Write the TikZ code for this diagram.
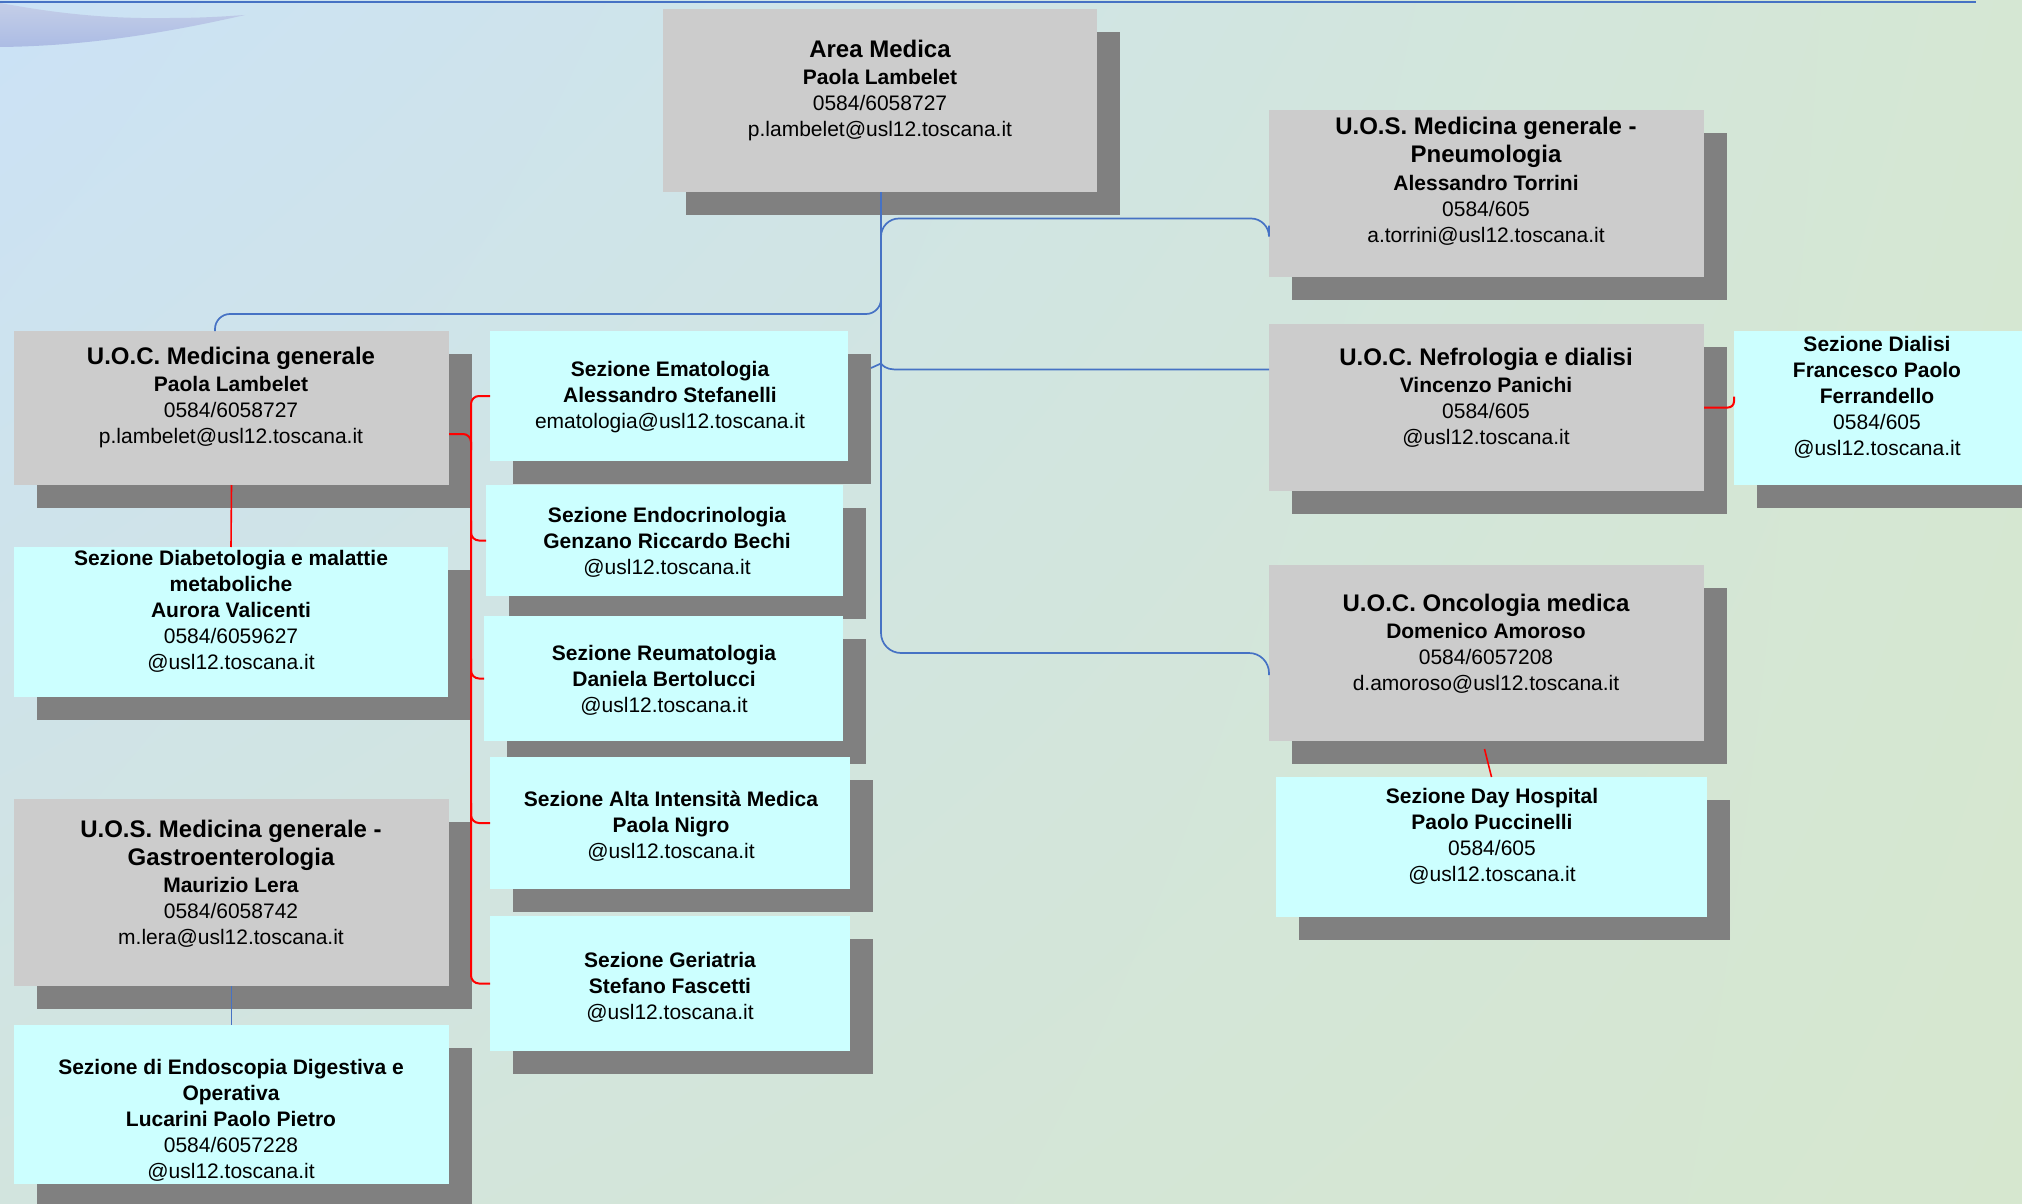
\documentclass[tikz,border=0pt]{standalone}
\usepackage{fontspec}
\setmainfont{Liberation Sans}
\usetikzlibrary{calc,shadings}
\definecolor{boxgray}{RGB}{204,204,204}
\definecolor{boxcyan}{RGB}{204,255,255}
\definecolor{shadowgray}{RGB}{128,128,128}
\definecolor{linkblue}{RGB}{70,114,196}
\definecolor{linkred}{RGB}{255,0,0}
\definecolor{bgUL}{RGB}{203,226,246}
\definecolor{bgUR}{RGB}{213,231,211}
\definecolor{bgLL}{RGB}{210,228,222}
\definecolor{bgLR}{RGB}{214,231,207}
\definecolor{swA}{RGB}{196,206,232}
\definecolor{swB}{RGB}{172,188,228}
\newcommand\Tl{\fontsize{24}{26}\selectfont\bfseries}
\newcommand\Bl{\bfseries}
\tikzset{
  orgbox/.style={inner sep=0pt, outer sep=0pt, anchor=north west, draw=none},
  orgtext/.style={align=center, font=\fontsize{21}{26}\selectfont, inner sep=0pt, text=black, yshift=-3.5pt},
  bluelink/.style={draw=linkblue, line width=1.7pt, rounded corners=16pt},
  redlink/.style={draw=linkred, line width=2pt, rounded corners=8pt},
}
\newcommand\orgunit[6]{%
  \fill[shadowgray] (#2+23,#3+23) rectangle (#4+23,#5+23);
  \node[orgbox, fill=#6, minimum width={(#4-#2)*1pt}, minimum height={(#5-#3)*1pt}] (#1) at (#2,#3) {};
}
\begin{document}
\begin{tikzpicture}[x=1pt,y=-1pt]
\useasboundingbox (0,0) rectangle (2022,1204);
% background
\shade[upper left=bgUL, upper right=bgUR, lower left=bgLL, lower right=bgLR] (0,0) rectangle (2022,1204);
% swoosh
\shade[top color=swA, bottom color=swB] (0,3) .. controls (60,14) and (110,19) .. (170,18)
  .. controls (205,18) and (230,16) .. (245,15)
  .. controls (170,32) and (90,46) .. (0,47) -- cycle;
\draw[linkblue, line width=2.5pt] (0,2) -- (1976,2);

% boxes
\orgunit{am}{663}{9}{1097}{192}{boxgray}
\orgunit{pn}{1269}{110}{1704}{277}{boxgray}
\orgunit{nef}{1269}{324}{1704}{491}{boxgray}
\orgunit{dia}{1734}{331}{2169}{485}{boxcyan}
\orgunit{onc}{1269}{565}{1704}{741}{boxgray}
\orgunit{dh}{1276}{777}{1707}{917}{boxcyan}
\orgunit{mg}{14}{331}{449}{485}{boxgray}
\orgunit{diab}{14}{547}{448}{697}{boxcyan}
\orgunit{gas}{14}{799}{449}{986}{boxgray}
\orgunit{endo}{14}{1025}{449}{1184}{boxcyan}
\orgunit{ema}{490}{331}{848}{461}{boxcyan}
\orgunit{endc}{486}{485}{843}{596}{boxcyan}
\orgunit{reu}{484}{616}{843}{741}{boxcyan}
\orgunit{alta}{490}{757}{850}{889}{boxcyan}
\orgunit{ger}{490}{916}{850}{1051}{boxcyan}

% texts
\node[orgtext] (am-t) at (880,87) {{\Tl Area Medica}\\[1pt] {\Bl Paola Lambelet}\\ 0584/6058727\\ p.lambelet@usl12.toscana.it};
\node[orgtext] (pn-t) at (1486,178) {{\Tl U.O.S. Medicina generale -}\\[2pt] {\Tl Pneumologia}\\[2pt] {\Bl Alessandro Torrini}\\ 0584/605\\ a.torrini@usl12.toscana.it};
\node[orgtext] (nef-t) at (1486,394) {{\Tl U.O.C. Nefrologia e dialisi}\\[1pt] {\Bl Vincenzo Panichi}\\ 0584/605\\ @usl12.toscana.it};
\node[orgtext] (dia-t) at (1877,394) {{\Bl Sezione Dialisi}\\ {\Bl Francesco Paolo}\\ {\Bl Ferrandello}\\ 0584/605\\ @usl12.toscana.it};
\node[orgtext] (onc-t) at (1486,640) {{\Tl U.O.C. Oncologia medica}\\[1pt] {\Bl Domenico Amoroso}\\ 0584/6057208\\ d.amoroso@usl12.toscana.it};
\node[orgtext] (dh-t) at (1492,833) {{\Bl Sezione Day Hospital}\\ {\Bl Paolo Puccinelli}\\ 0584/605\\ @usl12.toscana.it};
\node[orgtext] (mg-t) at (231,394) {{\Tl U.O.C. Medicina generale}\\[1pt] {\Bl Paola Lambelet}\\ 0584/6058727\\ p.lambelet@usl12.toscana.it};
\node[orgtext] (diab-t) at (231,608) {{\Bl Sezione Diabetologia e malattie}\\ {\Bl metaboliche}\\ {\Bl Aurora Valicenti}\\ 0584/6059627\\ @usl12.toscana.it};
\node[orgtext] (gas-t) at (231,880) {{\Tl U.O.S. Medicina generale -}\\[2pt] {\Tl Gastroenterologia}\\[1pt] {\Bl Maurizio Lera}\\ 0584/6058742\\ m.lera@usl12.toscana.it};
\node[orgtext] (endo-t) at (231,1117) {{\Bl Sezione di Endoscopia Digestiva e}\\ {\Bl Operativa}\\ {\Bl Lucarini Paolo Pietro}\\ 0584/6057228\\ @usl12.toscana.it};
\node[orgtext] (ema-t) at (670,394) {{\Bl Sezione Ematologia}\\ {\Bl Alessandro Stefanelli}\\ ematologia@usl12.toscana.it};
\node[orgtext] (endc-t) at (667,539) {{\Bl Sezione Endocrinologia}\\ {\Bl Genzano Riccardo Bechi}\\ @usl12.toscana.it};
\node[orgtext] (reu-t) at (664,677) {{\Bl Sezione Reumatologia}\\ {\Bl Daniela Bertolucci}\\ @usl12.toscana.it};
\node[orgtext] (alta-t) at (671,823) {{\Bl Sezione Alta Intensità Medica}\\ {\Bl Paola Nigro}\\ @usl12.toscana.it};
\node[orgtext] (ger-t) at (670,984) {{\Bl Sezione Geriatria}\\ {\Bl Stefano Fascetti}\\ @usl12.toscana.it};

% blue connectors
\coordinate (spine) at ($(am.south)+(1,0)$);
\draw[bluelink, rounded corners=20pt] (spine) -- (spine |- onc.west) -- (onc.west) -- ($(onc.west)+(0,22)$);
\coordinate (pnin) at ($(pn.west)+(0,25)$);
\draw[bluelink, rounded corners=18pt] ($(spine)+(0,55)$) -- (spine |- pnin) -- (pnin) -- ($(pnin)+(0,7)$);
\coordinate (mgin) at ($(mg.north west)+(201,0)$);
\draw[bluelink, rounded corners=15pt] ($(spine)+(0,85)$) -- ($(spine)+(0,122)$) -| (mgin);
\coordinate (nefin) at ($(nef.west)+(0,-38)$);
\coordinate (nefj) at (spine |- nefin);
\draw[bluelink, rounded corners=0pt] (871,368) -- ($(nefj)+(0,-6)$) .. controls ($(nefj)+(5,0)$) and ($(nefj)+(10,0)$) .. ($(nefj)+(19,0)$) -- (nefin);
\draw[linkblue, line width=1.3pt] (gas.south) -- (endo.north);

% red connectors
\coordinate (rsp) at (471,0);
\coordinate (mgout) at ($(mg.east)+(0,26)$);
\draw[redlink] (mgout) -- (rsp |- mgout) -- ($(rsp |- mgout)+(0,16)$);
\draw[redlink] (ema.west) -- (rsp |- ema.west) -- (rsp |- ger.west) -- (ger.west);
\draw[redlink] ($(rsp |- endc.west)+(0,-20)$) -- (rsp |- endc.west) -- (endc.west);
\draw[redlink] ($(rsp |- reu.west)+(0,-20)$) -- (rsp |- reu.west) -- (reu.west);
\draw[redlink] ($(rsp |- alta.west)+(0,-20)$) -- (rsp |- alta.west) -- (alta.west);
\coordinate (diaj) at (dia.west |- nef.east);
\draw[redlink, rounded corners=6pt] (nef.east) -- (diaj) -- ($(diaj)+(0,-11)$);
\draw[linkred, line width=1.6pt] ($(onc.south)+(-2,8)$) -- (dh.north);
\draw[linkred, line width=1.6pt] (mg.south) -- (diab.north);
\end{tikzpicture}
\end{document}
